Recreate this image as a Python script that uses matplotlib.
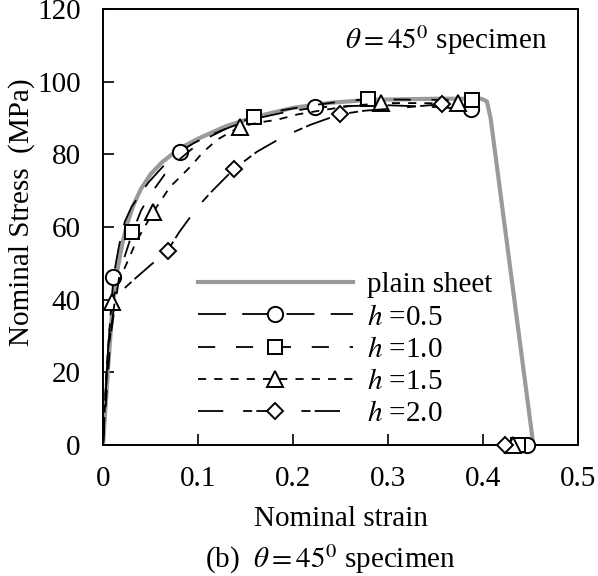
import matplotlib
matplotlib.use("Agg")
import matplotlib.pyplot as plt

plt.rcParams['font.family'] = ['Liberation Serif', 'DejaVu Serif']
plt.rcParams['mathtext.fontset'] = 'stix'

# ---- data ----
plain_strain = [0, 0.005, 0.010, 0.015, 0.020, 0.025, 0.032, 0.040, 0.050, 0.062,
                0.080, 0.100, 0.130, 0.160, 0.200, 0.240, 0.280, 0.350, 0.398,
                0.404, 0.408, 0.453]
plain_stress = [0, 20, 38, 48, 55, 60.5, 66, 70.5, 74.5, 77.8,
                81.5, 84.3, 87.8, 90.3, 92.8, 94.2, 95.0, 95.3, 95.3,
                94.6, 90, 0]

h05_strain = [0, 0.005, 0.011, 0.017, 0.023, 0.030, 0.039, 0.048, 0.058, 0.068, 0.081,
              0.095, 0.110, 0.135, 0.160, 0.190, 0.223, 0.260, 0.300, 0.345, 0.387]
h05_stress = [0, 25, 46.3, 55, 61.5, 65.5, 69, 72.3, 75.2, 78, 80.7,
              83, 85.0, 87.6, 89.8, 91.5, 92.9, 93.3, 93.5, 93.1, 92.4]
h05_marks = [2, 10, 16, 20]

h10_strain = [0, 0.008, 0.018, 0.031, 0.040, 0.050, 0.065, 0.080, 0.095, 0.110, 0.135,
              0.159, 0.190, 0.220, 0.250, 0.279, 0.330, 0.388]
h10_stress = [0, 30, 48, 58.5, 64.5, 69, 74.5, 78.5, 81.8, 84.5, 87.8,
              90.4, 92.2, 93.5, 94.5, 95.2, 95.0, 95.0]
h10_marks = [3, 11, 15, 17]

h15_strain = [0, 0.004, 0.009, 0.020, 0.035, 0.053, 0.0705, 0.092, 0.105, 0.120, 0.144,
              0.165, 0.183, 0.205, 0.232, 0.260, 0.293, 0.330, 0.374]
h15_stress = [0, 22, 39.4, 47, 56, 64.2, 71, 76.6, 80.5, 84, 87.6,
              88.8, 89.5, 91, 92.2, 93.3, 94.1, 94.1, 94.0]
h15_marks = [2, 5, 10, 16, 18]

h20_strain = [0, 0.005, 0.013, 0.032, 0.050, 0.068, 0.080, 0.092, 0.104, 0.116, 0.138,
              0.162, 0.190, 0.218, 0.249, 0.275, 0.300, 0.330, 0.357]
h20_stress = [0, 25, 40.8, 45.4, 49.5, 53.5, 58.5, 62.8, 66.8, 70.2, 76.0,
              80.7, 84.9, 88.1, 91.0, 92.0, 92.5, 93.2, 93.8]
h20_marks = [5, 10, 14, 18]

# fracture points (stress drops to zero)
frac_strain = [0.446, 0.437, 0.432, 0.423]
frac_stress = [0, 0, 0, 0]

labels = ['plain sheet', '$h$ =0.5', '$h$ =1.0', '$h$ =1.5', '$h$ =2.0']
xticks = [0, 0.1, 0.2, 0.3, 0.4, 0.5]
xticklabels = ['0', '0.1', '0.2', '0.3', '0.4', '0.5']
yticks = [0, 20, 40, 60, 80, 100, 120]

FS = 21
fig = plt.figure(figsize=(5.98, 5.76), dpi=100)
ax = fig.add_axes([103/598, 1-445/576, 475/598, 436/576])

ax.plot(plain_strain, plain_stress, color='#9a9a9a', lw=3.0, solid_joinstyle='round',
        label=labels[0], zorder=2)

mk = dict(markerfacecolor='white', markeredgecolor='black', markeredgewidth=1.4, color='black',
          lw=1.3, zorder=3)
ax.plot(h05_strain, h05_stress, marker='o', markersize=11, markevery=h05_marks,
        dashes=(15.5, 9), label=labels[1], **mk)
ax.plot(h10_strain, h10_stress, marker='s', markersize=10.5, markevery=h10_marks,
        dashes=(9.5, 11.5), label=labels[2], **mk)
ax.plot(h15_strain, h15_stress, marker='^', markersize=12, markevery=h15_marks,
        dashes=(4.5, 4.5), label=labels[3], **mk)
ax.plot(h20_strain, h20_stress, marker='D', markersize=8.5, markevery=h20_marks,
        dashes=(14, 11, 5, 2.3), label=labels[4], **mk)

frac_markers = ['o', 's', '^', 'D']
frac_sizes = [11, 10.5, 12, 8.5]
for xs, ys, m, s in zip(frac_strain, frac_stress, frac_markers, frac_sizes):
    ax.plot([xs], [ys], linestyle='none', marker=m, markersize=s, markerfacecolor='white',
            markeredgecolor='black', markeredgewidth=1.4, zorder=4, clip_on=False)

ax.set_xlim(0, 0.5)
ax.set_ylim(0, 120)
ax.set_xticks(xticks)
ax.set_xticklabels(xticklabels)
ax.set_yticks(yticks)
ax.tick_params(direction='in', length=8, width=1.2, labelsize=FS)
ax.tick_params(axis='x', pad=15)
ax.tick_params(axis='y', pad=16)
for sp in ax.spines.values():
    sp.set_linewidth(1.4)

ax.set_xlabel('Nominal strain', fontsize=FS, labelpad=10)
fig.text(22/598, 1-212/576, 'Nominal Stress  (MPa)', rotation=90, fontsize=FS,
         ha='center', va='center')

ax.text(0.468, 111.5, r'$\theta = 45^0$ specimen', fontsize=FS, ha='right', va='center')

fig.text(330/598, 1-559/576, r'(b)  $\theta = 45^0$ specimen', fontsize=FS,
         ha='center', va='center')

leg = ax.legend(loc='upper left', bbox_to_anchor=(95/475, (445-272)/436), fontsize=FS,
                frameon=False, handlelength=5.3, handletextpad=0.48, labelspacing=0.2,
                numpoints=1, borderaxespad=0, borderpad=0)

fig.savefig('out.png', dpi=100)
